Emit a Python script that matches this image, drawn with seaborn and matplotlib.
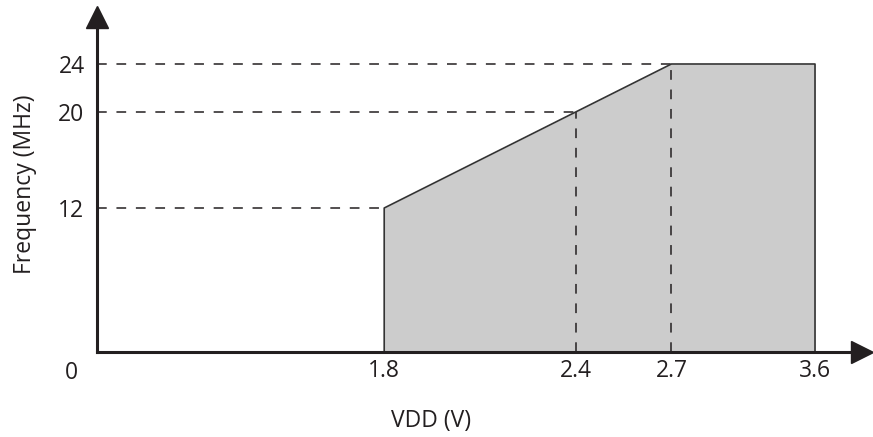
import numpy as np
import matplotlib
matplotlib.use('Agg')
import matplotlib.pyplot as plt
import seaborn as sns

# ── Data ──────────────────────────────────────────────────────────────────────
vdd = [1.8, 2.4, 2.7, 3.6]          # supply voltage (V)
freq = [12, 20, 24, 24]             # max frequency (MHz)
guide_v = [1.8, 2.4, 2.7]           # corners with dashed guides
guide_f = [12, 20, 24]
vlines_v = [2.4, 2.7]
vlines_f = [20, 24]
xtick_vals = [1.8, 2.4, 2.7, 3.6]
ytick_vals = [12, 20, 24]

INK = '#231f20'
FS = 16.5

# ── Piecewise x scale (1.8..2.7 drawn twice as wide, as in the datasheet) ────
_raw = [-1.0, 0.0, 1.8, 2.4, 2.7, 3.6, 5.0]
_map = [-1.0, 0.0, 1.8, 3.0, 3.6, 4.5, 5.9]


def fwd(x):
    return np.interp(x, _raw, _map)


def inv(x):
    return np.interp(x, _map, _raw)


sns.set_theme(style='white')
plt.rcParams['font.family'] = ['Open Sans', 'DejaVu Sans']
plt.rcParams['lines.scale_dashes'] = False

W, H = 873, 437
fig = plt.figure(figsize=(W / 100, H / 100), dpi=100)
# origin at pixel (97, 352); arrow tips at x=872 and y=5
ax = fig.add_axes([97 / W, (H - 352) / H, (862 - 97) / W, (352 - 17) / H])
ax.set_xscale('function', functions=(fwd, inv))
ax.set_xlim(0, inv(fwd(3.6) + (862 - 815) / 159.6))
ax.set_ylim(0, (352 - 17) / 12)

# shaded operating region
ax.fill_between(vdd, freq, 0, color='#cccccc', linewidth=0, zorder=1)

# dashed guides
ax.hlines(guide_f, 0, guide_v, colors=INK, linewidth=1.1,
          linestyles=(0, (7, 7)), zorder=2)
ax.vlines(vlines_v, 0, vlines_f, colors=INK, linewidth=1.1,
          linestyles=(0, (7, 7)), zorder=2)

# outline of region
out_x = [vdd[0]] + vdd + [vdd[-1]]
out_y = [0] + freq + [0]
sns.lineplot(x=out_x, y=out_y, sort=False, estimator=None, ax=ax,
             color='#333333', linewidth=1.2, zorder=3)

# axes with arrows
for side in ['top', 'right']:
    ax.spines[side].set_visible(False)
for side in ['left', 'bottom']:
    ax.spines[side].set_linewidth(2.2)
    ax.spines[side].set_color(INK)
    ax.spines[side].set_zorder(4)
ax.plot(1, 0, '>', color=INK, ms=16, transform=ax.transAxes, clip_on=False, zorder=5)
ax.plot(0, 1, '^', color=INK, ms=16, transform=ax.transAxes, clip_on=False, zorder=5)

ax.set_xticks(xtick_vals)
ax.set_xticklabels([f'{v:.1f}' for v in xtick_vals])
ax.set_yticks(ytick_vals)
ax.set_yticklabels([str(v) for v in ytick_vals])
ax.tick_params(axis='x', length=0, pad=5, labelsize=FS, labelcolor=INK)
ax.tick_params(axis='y', length=0, pad=9, labelsize=FS, labelcolor=INK)
ax.grid(False)

ax.annotate('0', xy=(0, 0), xytext=(-26, -21), textcoords='offset pixels',
            ha='center', va='center', fontsize=FS, color=INK)

ax.set_xlabel('VDD (V)', fontsize=FS, color=INK)
ax.xaxis.set_label_coords((431 - 97) / 765, (352 - 409) / 335)
ax.set_ylabel('Frequency (MHz)', fontsize=FS, color=INK)
ax.yaxis.set_label_coords((37 - 97) / 765, 0.5)

fig.savefig('out.png', dpi=100)
